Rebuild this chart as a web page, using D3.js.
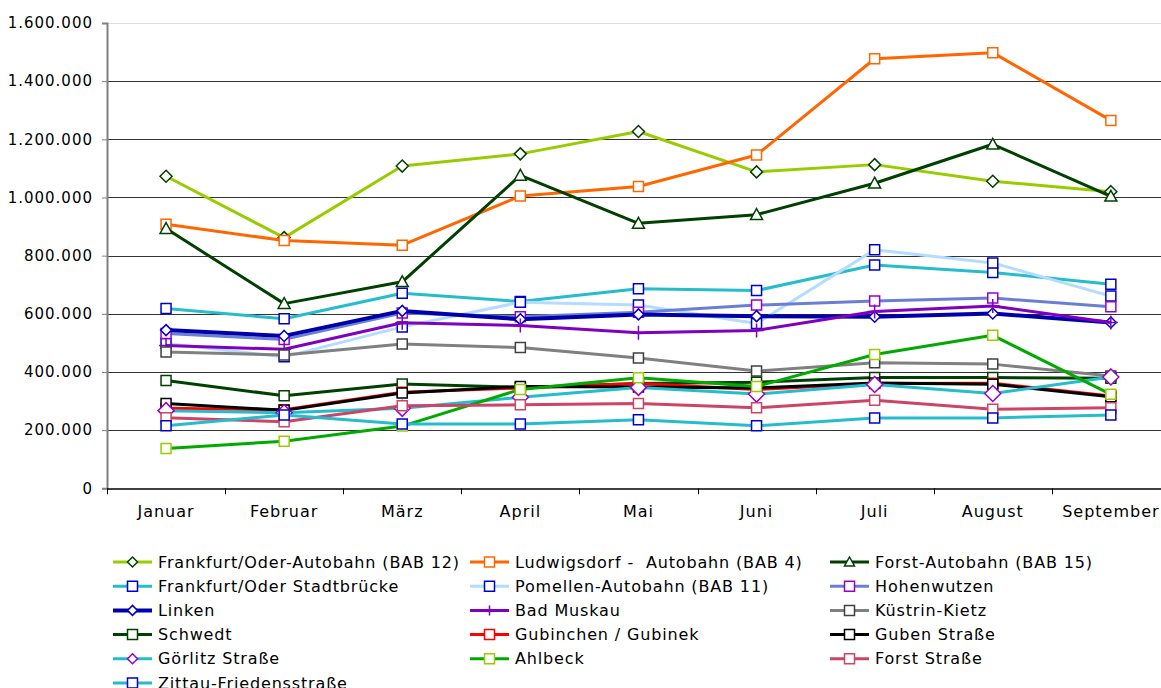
<!DOCTYPE html>
<html><head><meta charset="utf-8">
<script src="https://cdn.jsdelivr.net/npm/d3@7"></script>
<style>body{margin:0;background:#fff;}svg{display:block;}text{white-space:pre;}</style>
</head><body>
<svg id="c" width="1161" height="688"></svg>
<script>
const months = ["Januar","Februar","März","April","Mai","Juni","Juli","August","September"];
const yTicks = [0,200000,400000,600000,800000,1000000,1200000,1400000,1600000];

const seriesNames = ["Frankfurt/Oder-Autobahn (BAB 12)","Ludwigsdorf -  Autobahn (BAB 4)","Forst-Autobahn (BAB 15)",
 "Frankfurt/Oder Stadtbrücke","Pomellen-Autobahn (BAB 11)","Hohenwutzen",
 "Linken","Bad Muskau","Küstrin-Kietz",
 "Schwedt","Gubinchen / Gubinek","Guben Straße",
 "Görlitz Straße","Ahlbeck","Forst Straße","Zittau-Friedensstraße"];

const frankfurtBAB12 = [1073000,862000,1108000,1150000,1227000,1088000,1113000,1056000,1020000];
const ludwigsdorf    = [908000,852000,836000,1005000,1038000,1146000,1477000,1498000,1265000];
const forstBAB15     = [893000,635000,710000,1076000,911000,941000,1049000,1183000,1004000];
const ffoStadt       = [618000,583000,671000,642000,686000,680000,768000,742000,702000];
const pomellen       = [498000,452000,555000,640000,630000,567000,820000,775000,661000];
const hohenwutzen    = [532000,512000,603000,590000,605000,630000,644000,654000,624000];
const linken         = [544000,524000,610000,581000,598000,592000,590000,601000,570000];
const badMuskau      = [491000,478000,569000,560000,535000,543000,608000,627000,570000];
const kuestrin       = [469000,458000,496000,484000,448000,403000,432000,427000,386000];
const schwedt        = [371000,318000,359000,347000,360000,365000,381000,381000,378000];
const gubinchen      = [275000,270000,330000,345000,360000,340000,360000,361000,317000];
const gubenStr       = [292000,268000,328000,350000,348000,345000,362000,358000,315000];
const goerlitz       = [267000,260000,275000,313000,347000,324000,357000,326000,383000];
const ahlbeck        = [137000,162000,214000,340000,380000,350000,460000,526000,323000];
const forstStr       = [243000,229000,284000,287000,292000,277000,303000,272000,277000];
const zittau         = [215000,252000,221000,221000,236000,215000,242000,242000,252000];

const values = [frankfurtBAB12,ludwigsdorf,forstBAB15,ffoStadt,pomellen,hohenwutzen,linken,badMuskau,kuestrin,
  schwedt,gubinchen,gubenStr,goerlitz,ahlbeck,forstStr,zittau];

const lineColors   = ["#99cc00","#ff6600","#004000","#25bccb","#b3dcff","#6a7fd4","#0000aa","#7f00bf","#808080","#004000","#ff0000","#000000","#25bccb","#00aa00","#cc4466","#25bccb"];
const markerShapes = ["diamond","square","triangle","square","square","square","diamond","plus","square","square","square","square","diamond","square","square","square"];
const markerColors = ["#004000","#ff6600","#004000","#0000cc","#0000cc","#9900cc","#0000cc","#7f00bf","#404040","#004000","#ff0000","#000000","#9900cc","#99cc00","#cc4466","#0000cc"];
const lineWidths   = [3,3,3,3,3,3,4,3,3,3,3,3,3,3,3,3];
const markerSizes  = [6,5,6,5,5,5,5.5,7,5,5,5,5,8,5,5,5];

(function(){
const svg = d3.select("#c");
const left = 107, plotTop = 23, bottom = 488.3;
const step = 118.1;
const FONT = "DejaVu Sans, Verdana, sans-serif";
const x = d3.scaleBand().domain(months).range([left, left + step*months.length]).padding(0);
const y = d3.scaleLinear().domain([0,1600000]).range([bottom, plotTop]);
const fmt = v => d3.format(",")(v).replace(/,/g,".");

svg.append("g").selectAll("line").data(yTicks.filter(d=>d>0)).join("line")
  .attr("x1", left).attr("x2", 1161)
  .attr("y1", d=>Math.round(y(d))+0.5).attr("y2", d=>Math.round(y(d))+0.5)
  .attr("stroke", d=> d===1600000 ? "#dddddd" : "#333333").attr("stroke-width",1);

const yAxis = d3.axisLeft(y).tickValues(yTicks).tickFormat(fmt).tickSize(5).tickPadding(9);
const gy = svg.append("g").attr("transform",`translate(${left},0)`).call(yAxis);
gy.select(".domain").attr("stroke","#808080").attr("stroke-width",2);
gy.selectAll(".tick line").attr("stroke","#808080");
gy.selectAll(".tick text").attr("font-family",FONT).attr("font-size","15px").attr("letter-spacing","1px").attr("fill","#000");

const xAxis = d3.axisBottom(x).tickSize(0).tickPadding(17);
const gx = svg.append("g").attr("transform",`translate(0,${Math.round(bottom)+0.5})`).call(xAxis);
gx.select(".domain").attr("stroke","#000").attr("stroke-width",1.3);
gx.selectAll(".tick text").attr("font-family",FONT).attr("font-size","16px").attr("letter-spacing","1px").attr("fill","#000");
svg.append("g").selectAll("line").data(d3.range(months.length+1)).join("line")
  .attr("x1", i=>Math.round(left+i*step)+0.5).attr("x2", i=>Math.round(left+i*step)+0.5)
  .attr("y1", bottom).attr("y2", bottom+6).attr("stroke","#000");

function markerPath(shape, s){
  if(shape==="square") return `M${-s},${-s}H${s}V${s}H${-s}Z`;
  if(shape==="diamond") return `M0,${-s}L${s},0L0,${s}L${-s},0Z`;
  if(shape==="triangle") return `M0,${-s}L${s},${s*0.8}L${-s},${s*0.8}Z`;
  if(shape==="plus") return `M${-s},0H${s}M0,${-s}V${s}`;
}

const line = d3.line().x((d,i)=>x(months[i])+x.bandwidth()/2).y(d=>y(d));
const plot = svg.append("g");
values.forEach((vals,k)=>{
  const g = plot.append("g");
  g.append("path").attr("d", line(vals)).attr("fill","none")
    .attr("stroke", lineColors[k]).attr("stroke-width", lineWidths[k]).attr("stroke-linejoin","round");
  g.selectAll("path.m").data(vals).join("path").attr("class","m")
    .attr("transform",(d,i)=>`translate(${x(months[i])+x.bandwidth()/2},${y(d)})`)
    .attr("d", markerPath(markerShapes[k], markerSizes[k]))
    .attr("fill", markerShapes[k]==="plus" ? "none" : "#fff")
    .attr("stroke", markerColors[k]).attr("stroke-width", 1.5);
});

const colX = [113, 470, 830];
const rowY0 = 562, rowStep = 24.2;
const leg = svg.append("g");
seriesNames.forEach((name,k)=>{
  const cx = colX[k%3], cy = rowY0 + Math.floor(k/3)*rowStep;
  const g = leg.append("g").attr("transform",`translate(${cx},${cy})`);
  g.append("line").attr("x1",0).attr("x2",39).attr("y1",0).attr("y2",0)
    .attr("stroke", lineColors[k]).attr("stroke-width", lineWidths[k]);
  g.append("path").attr("transform","translate(19.5,0)")
    .attr("d", markerPath(markerShapes[k], Math.min(markerSizes[k],5)))
    .attr("fill", markerShapes[k]==="plus" ? "none" : "#fff")
    .attr("stroke", markerColors[k]).attr("stroke-width",1.5);
  g.append("text").attr("x",45).attr("y",0).attr("dy","0.35em")
    .attr("font-family",FONT).attr("font-size","16px").attr("letter-spacing","0.85px").attr("fill","#000")
    .text(name);
});
})();
</script>
</body></html>
